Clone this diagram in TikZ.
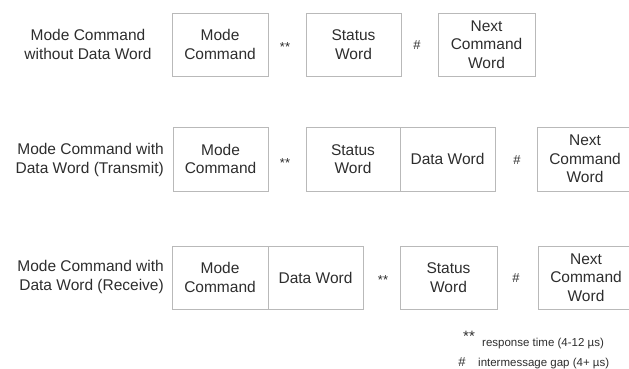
\documentclass[tikz,border=0pt]{standalone}
\usepackage{fontspec}
\setmainfont{Liberation Sans}
\definecolor{boxline}{RGB}{185,185,185}
\definecolor{ink}{RGB}{45,45,45}
\begin{document}
\begin{tikzpicture}[x=1pt,y=-1pt,
  word/.style={draw=boxline, line width=1pt, minimum height=63pt, inner sep=0pt,
    align=center, text=ink, font=\fontsize{15.5}{18.5}\selectfont},
  rowlabel/.style={inner sep=0pt, text=ink, font=\fontsize{15.5}{19}\selectfont},
  sep/.style={inner sep=0pt, anchor=base, text=ink, font=\fontsize{13}{13}\selectfont},
  legend/.style={inner sep=0pt, anchor=base west, text=ink, font=\fontsize{11.5}{12}\selectfont}
]
\useasboundingbox (0,0) rectangle (629,368);

% Row 1
\node[rowlabel, align=center] (l1) at (88,44) {Mode Command\\without Data Word};
\node[word, minimum width=96pt] (mc1) at (220,44.5) {Mode\\Command};
\node[sep] (s1) at (285,51) {**};
\node[word, minimum width=95pt] (sw1) at (353.5,44.5) {Status\\Word};
\node[sep] (h1) at (417,49) {\#};
\node[word, minimum width=97pt] (nc1) at (486.5,44.5) {Next\\Command\\Word};

% Row 2
\node[rowlabel, align=right, anchor=east] (l2) at (164,160) {Mode Command with\\Data Word (Transmit)};
\node[word, minimum width=95pt, minimum height=64pt] (mc2) at (220.5,159) {Mode\\Command};
\node[sep] (s2) at (285,167) {**};
\node[word, minimum width=94pt, minimum height=64pt] (sw2) at (353,159) {Status\\Word};
\node[word, minimum width=95pt, minimum height=64pt] (dw2) at (447.5,159) {Data Word};
\node[sep] (h2) at (517,164.5) {\#};
\node[word, minimum width=96pt, minimum height=64pt] (nc2) at (585,159) {Next\\Command\\Word};

% Row 3
\node[rowlabel, align=right, anchor=east] (l3) at (164,277) {Mode Command with\\Data Word (Receive)};
\node[word, minimum width=96pt] (mc3) at (220,277.5) {Mode\\Command};
\node[word, minimum width=95pt] (dw3) at (315.5,277.5) {Data Word};
\node[sep] (s3) at (383,284) {**};
\node[word, minimum width=97pt] (sw3) at (448.5,277.5) {Status\\Word};
\node[sep] (h3) at (516,282) {\#};
\node[word, minimum width=96pt] (nc3) at (586,277.5) {Next\\Command\\Word};

% Legend
\node[sep, font=\fontsize{15}{15}\selectfont] (ls) at (469,341) {**};
\node[legend] (lt1) at (482,346) {response time (4-12 µs)};
\node[sep, font=\fontsize{13}{13}\selectfont] (lh) at (462,366.5) {\#};
\node[legend] (lt2) at (478,366.5) {intermessage gap (4+ µs)};
\end{tikzpicture}
\end{document}
